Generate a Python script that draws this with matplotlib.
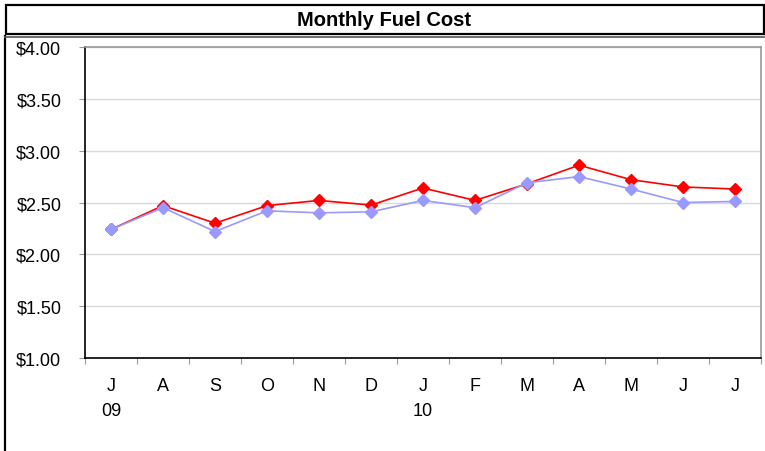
#!/usr/bin/env python3
"""Monthly fuel cost line chart, two series."""

import matplotlib

matplotlib.use("Agg")
import matplotlib.pyplot as plt  # type: ignore
from matplotlib.lines import Line2D  # type: ignore
from matplotlib.patches import Rectangle  # type: ignore
from matplotlib.ticker import FixedLocator, FuncFormatter  # type: ignore

months = ["J\n09", "A", "S", "O", "N", "D", "J\n10", "F", "M", "A", "M", "J", "J"]
red_cost = [2.24, 2.47, 2.30, 2.47, 2.52, 2.475, 2.64, 2.52, 2.68, 2.86, 2.72, 2.65, 2.63]
blue_cost = [2.24, 2.45, 2.22, 2.42, 2.40, 2.41, 2.52, 2.45, 2.69, 2.75, 2.63, 2.50, 2.51]
y_ticks = [1.0, 1.5, 2.0, 2.5, 3.0, 3.5, 4.0]

W, H = 765, 452


def main():
    plt.rcParams["font.family"] = ["Liberation Sans", "DejaVu Sans"]
    fig = plt.figure(figsize=(W / 100, H / 100), dpi=100)

    # title box and outer frame
    fig.patches.append(Rectangle((6 / W, 1 - 35 / H), 758 / W, 29 / H,
                                 transform=fig.transFigure, fill=False,
                                 edgecolor="black", linewidth=1.6))
    fig.lines.append(Line2D([5 / W, 5 / W], [0, 1 - 37 / H],
                            transform=fig.transFigure, color="black", linewidth=1.6))
    fig.lines.append(Line2D([5 / W, 1], [1 - 37.5 / H, 1 - 37.5 / H],
                            transform=fig.transFigure, color="#555555", linewidth=1.2))
    fig.text(384 / W, 1 - 20 / H, "Monthly Fuel Cost", ha="center", va="center",
             fontsize=14.5, fontweight="bold")

    ax = fig.add_axes([85 / W, (H - 359) / H, 676 / W, 311 / H])
    x = list(range(len(months)))
    ax.plot(x, red_cost, color="#ff0000", linewidth=1.2, marker="D",
            markersize=6, zorder=3)
    ax.plot(x, blue_cost, color="#9999ff", linewidth=1.2, marker="D",
            markersize=6, zorder=4)

    ax.set_xlim(-0.5, len(months) - 0.5)
    ax.set_ylim(1.0, 4.0)
    ax.set_yticks(y_ticks)
    ax.yaxis.set_major_formatter(FuncFormatter(lambda v, _: f"${v:.2f}"))
    ax.grid(axis="y", color="#d9d9d9", linewidth=1)
    ax.set_axisbelow(True)

    ax.xaxis.set_major_locator(FixedLocator([i - 0.5 for i in range(len(months) + 1)]))
    ax.xaxis.set_major_formatter(FuncFormatter(lambda v, _: ""))
    ax.set_xticks(x, minor=True)
    ax.set_xticklabels(months, minor=True, fontsize=13, linespacing=1.65)
    ax.tick_params(axis="x", which="minor", length=0, pad=13.5)
    ax.tick_params(axis="x", which="major", length=4, color="#999999")
    ax.tick_params(axis="y", length=4, color="#999999", pad=13, labelsize=13)
    for lab in ax.get_xticklabels(minor=True):
        lab.set_verticalalignment("top")

    ax.spines["left"].set_color("black")
    ax.spines["bottom"].set_color("black")
    ax.spines["top"].set_color("#999999")
    ax.spines["right"].set_color("#999999")
    for s in ax.spines.values():
        s.set_linewidth(1.2)

    fig.savefig("out.png", dpi=100)


if __name__ == "__main__":
    main()
